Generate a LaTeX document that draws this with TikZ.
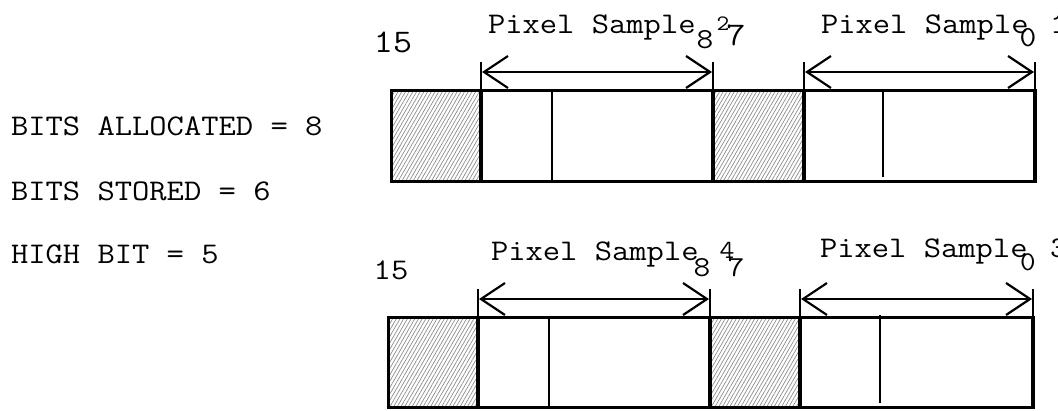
\documentclass[tikz,border=0pt]{standalone}
\usepackage{fontspec}
\newfontfamily\cour[FakeStretch=1.12]{Latin Modern Mono}
\usetikzlibrary{arrows.meta,patterns.meta}
\newcommand\fsz[1]{\cour\fontsize{#1}{#1}\selectfont}
\tikzset{
  txt/.style={inner sep=0pt,outer sep=0pt,anchor=base west},
  num/.style={inner sep=0pt,outer sep=0pt,anchor=center},
  hatch/.style={pattern={Lines[angle=60,distance=3.2pt,line width=0.7pt]},pattern color=black!45},
  frame/.style={line width=3pt},
  thickdiv/.style={line width=4pt},
  thindiv/.style={line width=2.5pt},
  tick/.style={line width=2.5pt},
  dim/.style={line width=2.2pt,{Straight Barb[length=24pt,width=32pt,line width=2.2pt]}-{Straight Barb[length=24pt,width=32pt,line width=2.2pt]}}
}
\begin{document}
\begin{tikzpicture}[x=1pt,y=-1pt]
\useasboundingbox (0,0) rectangle (1058,410);
% left labels
\node[txt] (ba) at (11,135) {\fsz{30}BITS ALLOCATED = 8};
\node[txt] (bs) at (11,200) {\fsz{30}BITS STORED = 6};
\node[txt] (hb) at (11,263) {\fsz{30}HIGH BIT = 5};

% ---------- top row ----------
\fill[hatch] (391,90) rectangle (481,181);
\fill[hatch] (713,90) rectangle (804,181);
\draw[frame] (391,90) rectangle (1035,181);
\draw[thickdiv] (481,90) -- (481,181);
\draw[thickdiv] (713,90) -- (713,181);
\draw[thickdiv] (804,90) -- (804,181);
\draw[thindiv] (552,90) -- (552,181);
\draw[thindiv] (883,90) -- (883,177);
\draw[thickdiv] (1035,90) -- (1035,181);
\draw[tick] (481,62) -- (481,90);
\draw[tick] (713,62) -- (713,90);
\draw[tick] (804,62) -- (804,90);
\draw[tick] (1035,62) -- (1035,90);
\coordinate (t1l) at (482,72);
\coordinate (t1r) at (712,72);
\coordinate (t2l) at (805,72);
\coordinate (t2r) at (1034,72);
\draw[dim] (t1l) -- (t1r);
\draw[dim] (t2l) -- (t2r);
\node[txt] (tp1) at (488,33) {\fsz{30}Pixel Sample};
\node[txt] (tp2) at (821,33) {\fsz{30}Pixel Sample};
\node[num] (t15) at (393,42) {\fsz{33}15};
\node[num] (t8) at (705,40) {\fsz{29}8};
\node[num] (t2) at (723,24) {\fsz{22}2};
\node[num] (t7) at (736,35) {\fsz{33}7};
\node[num] (t0) at (1028,38) {\fsz{29}0};
\node[txt] (t1) at (1050,33) {\fsz{30}1};

% ---------- bottom row ----------
\fill[hatch] (388,317) rectangle (478,407);
\fill[hatch] (710,317) rectangle (800,407);
\draw[frame] (388,317) rectangle (1033,407);
\draw[thickdiv] (478,317) -- (478,407);
\draw[thickdiv] (710,317) -- (710,407);
\draw[thickdiv] (800,317) -- (800,407);
\draw[thindiv] (549,317) -- (549,407);
\draw[thindiv] (880,315) -- (880,403);
\draw[thickdiv] (1033,317) -- (1033,407);
\draw[tick] (478,289) -- (478,317);
\draw[tick] (710,289) -- (710,317);
\draw[tick] (800,289) -- (800,317);
\draw[tick] (1033,289) -- (1033,317);
\coordinate (b1l) at (479,299);
\coordinate (b1r) at (709,299);
\coordinate (b2l) at (801,299);
\coordinate (b2r) at (1032,299);
\draw[dim] (b1l) -- (b1r);
\draw[dim] (b2l) -- (b2r);
\node[txt] (bp1) at (491,260) {\fsz{30}Pixel Sample};
\node[txt] (bp2) at (820,257) {\fsz{30}Pixel Sample};
\node[num] (b15) at (391,270) {\fsz{30}15};
\node[num] (b8) at (702,268) {\fsz{29}8};
\node[num] (b4) at (727,250) {\fsz{26}4};
\node[num] (b7) at (736,268) {\fsz{29}7};
\node[num] (b0) at (1028,262) {\fsz{27}0};
\node[txt] (b3) at (1050,257) {\fsz{30}3};
\end{tikzpicture}
\end{document}
